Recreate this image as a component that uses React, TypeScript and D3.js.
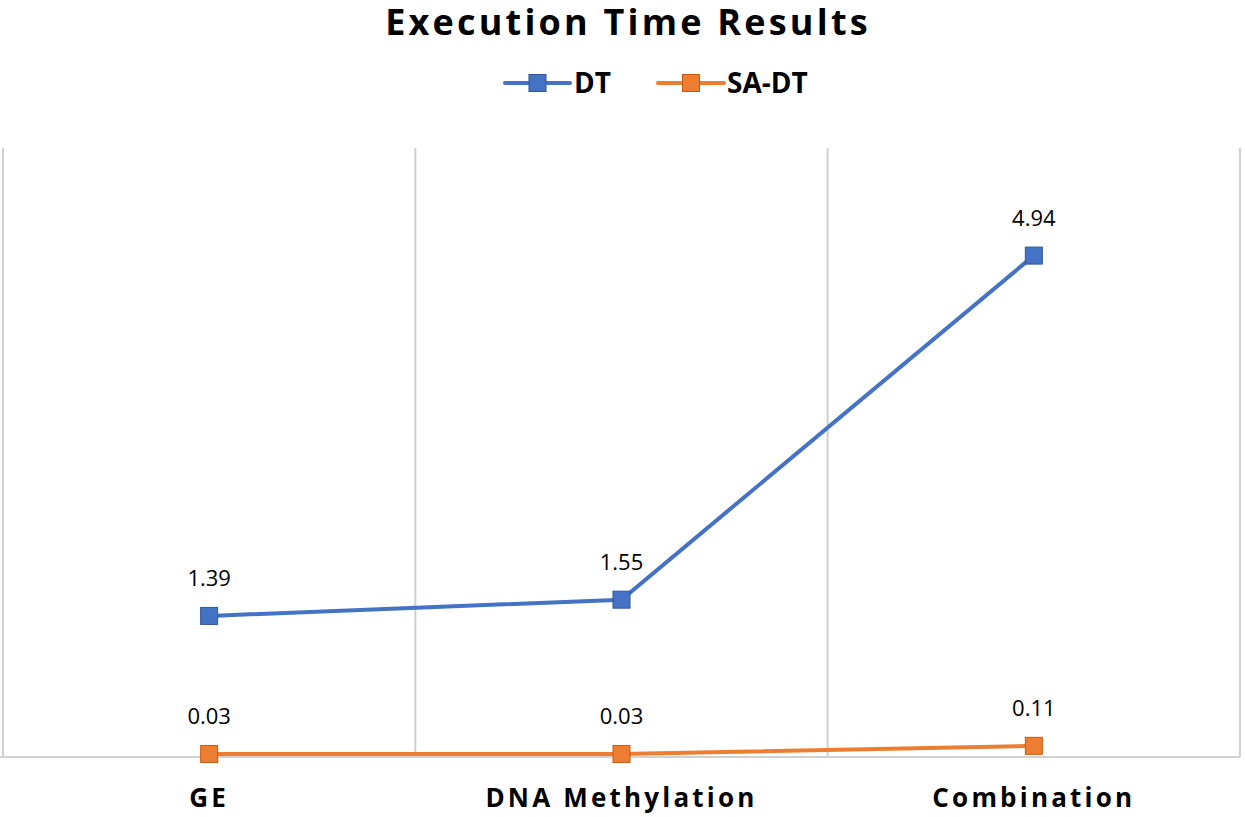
import React from "react";
import * as d3 from "d3";

const categories = ["GE", "DNA Methylation", "Combination"];
const dtValues = [1.39, 1.55, 4.94];
const saDtValues = [0.03, 0.03, 0.11];
const seriesNames = ["DT", "SA-DT"];
const seriesColors = ["#4472C4", "#ED7D31"];
const seriesStroke = ["#2F5597", "#C55A11"];

const W = 1245;
const H = 817;
const plot = { left: 3, right: 1240, top: 148, bottom: 757 };

export default function App() {
  const x = d3.scaleBand<string>().domain(categories).range([plot.left, plot.right]);
  const y = d3.scaleLinear().domain([0, 6]).range([plot.bottom, plot.top]);
  const cx = (c: string) => (x(c) as number) + x.bandwidth() / 2;
  const line = d3
    .line<number>()
    .x((_, i) => cx(categories[i]))
    .y((d) => y(d));
  const series = [dtValues, saDtValues];
  const gridXs = [plot.left, ...categories.map((c) => (x(c) as number) + x.bandwidth())];
  const ms = 17;
  const font = "'Open Sans', 'DejaVu Sans', sans-serif";

  return (
    <svg
      width={W}
      height={H}
      style={{ position: "absolute", left: 0, top: 0, background: "#fff" }}
      fontFamily={font}
    >
      <text x={628} y={35} textAnchor="middle" fontSize={36} fontWeight={700} letterSpacing={3.2} fill="#000">
        Execution Time Results
      </text>
      {/* legend */}
      {[
        { x0: 505, x1: 570, tx: 574 },
        { x0: 658, x1: 724, tx: 727 },
      ].map((l, i) => (
        <g key={i}>
          <line x1={l.x0} x2={l.x1} y1={83} y2={83} stroke={seriesColors[i]} strokeWidth={4} strokeLinecap="round" />
          <rect
            x={(l.x0 + l.x1) / 2 - ms / 2}
            y={83 - ms / 2}
            width={ms}
            height={ms}
            fill={seriesColors[i]}
            stroke={seriesStroke[i]}
            strokeWidth={1}
          />
          <text x={l.tx} y={93} fontSize={28} fontWeight={700} fill="#000">
            {seriesNames[i]}
          </text>
        </g>
      ))}
      {/* grid */}
      {gridXs.map((gx, i) => (
        <line key={i} x1={gx} x2={gx} y1={plot.top} y2={plot.bottom} stroke="#D0D0D0" strokeWidth={2} />
      ))}
      <line x1={plot.left - 3} x2={plot.right} y1={plot.bottom} y2={plot.bottom} stroke="#D0D0D0" strokeWidth={2} />
      {/* series */}
      {series.map((vals, si) => (
        <g key={si}>
          <path d={line(vals) as string} fill="none" stroke={seriesColors[si]} strokeWidth={4} />
          {vals.map((v, i) => (
            <g key={i}>
              <rect
                x={cx(categories[i]) - ms / 2}
                y={y(v) - ms / 2}
                width={ms}
                height={ms}
                fill={seriesColors[si]}
                stroke={seriesStroke[si]}
                strokeWidth={1}
              />
              <text x={cx(categories[i])} y={y(v) - 30} textAnchor="middle" fontSize={22} fill="#000">
                {v.toFixed(2)}
              </text>
            </g>
          ))}
        </g>
      ))}
      {/* category labels */}
      {categories.map((c) => (
        <text key={c} x={cx(c)} y={807} textAnchor="middle" fontSize={26} fontWeight={700} letterSpacing={3.2} fill="#000">
          {c}
        </text>
      ))}
    </svg>
  );
}
